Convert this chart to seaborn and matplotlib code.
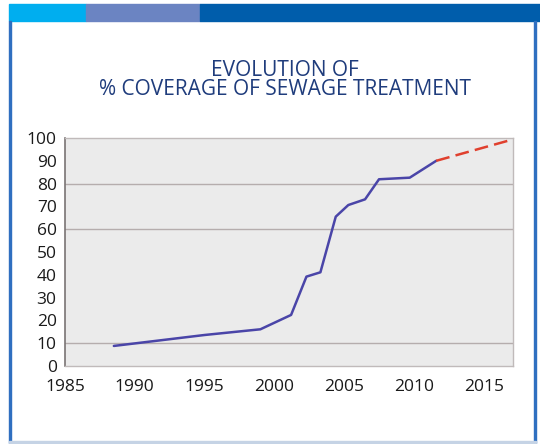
import matplotlib
matplotlib.use("Agg")
import matplotlib.pyplot as plt
import matplotlib.patches as patches
import pandas as pd
import seaborn as sns

years = [1988.5, 1995.0, 1999.0, 2001.2, 2002.3, 2003.3, 2004.4, 2005.3,
         2006.5, 2007.5, 2009.7, 2011.6]
coverage = [8.8, 13.6, 16.1, 22.4, 39.2, 41.1, 65.5, 70.6, 73.1, 81.9, 82.6, 90.0]

# Projection to full coverage
proj_years = [2011.6, 2017.1]
proj_coverage = [90.0, 99.4]

x_ticks = [1985, 1990, 1995, 2000, 2005, 2010, 2015]
y_ticks = [0, 10, 20, 30, 40, 50, 60, 70, 80, 90, 100]
grid_levels = [10, 60, 80]

title = "EVOLUTION OF\n% COVERAGE OF SEWAGE TREATMENT"

sns.set_style("white")
plt.rcParams["font.family"] = ["Open Sans", "DejaVu Sans"]

fig = plt.figure(figsize=(5.4, 4.44), dpi=100)

# header bar and page frame
W, H = 540, 444
def rect(x0, y0, x1, y1, color, **kw):
    fig.patches.append(patches.Rectangle((x0 / W, 1 - y1 / H), (x1 - x0) / W, (y1 - y0) / H,
                                         transform=fig.transFigure, color=color, **kw))

rect(9, 4, 86, 21, "#00aeef")
rect(86, 4, 200, 21, "#6b84c2")
rect(200, 4, 540, 21, "#005dab")
rect(9, 21, 11, 443, "#2f6fc0")
rect(534, 21, 536, 443, "#2f6fc0")
rect(9, 441, 536, 443, "#c5d3e5")

fig.text(285 / W, 1 - 80 / H, title, ha="center", va="center", fontsize=15,
         color="#1f3c7c", linespacing=0.82)

ax = fig.add_axes([65 / W, 1 - 366 / H, (513 - 65) / W, (366 - 138) / H])
ax.set_facecolor("#ebebeb")

df = pd.DataFrame({"year": years, "coverage": coverage})
proj = pd.DataFrame({"year": proj_years, "coverage": proj_coverage})

for lvl in grid_levels:
    ax.axhline(lvl, color="#b5adad", lw=1.0, zorder=1)

sns.lineplot(data=df, x="year", y="coverage", ax=ax, color="#4a45a8", lw=1.8, zorder=3)
sns.lineplot(data=proj, x="year", y="coverage", ax=ax, color="#e0402e", lw=1.8,
             dashes=False, linestyle=(0, (5.5, 2.5)), zorder=3)

ax.set_xlim(1985, 2017.1)
ax.set_ylim(0, 100)
ax.set_xticks(x_ticks)
ax.set_yticks(y_ticks)
ax.tick_params(axis="both", length=0, labelsize=12.5, colors="#1a1a1a")
ax.tick_params(axis="x", pad=9)
ax.tick_params(axis="y", pad=6)
ax.set_xlabel("")
ax.set_ylabel("")

for side in ["top", "right", "bottom"]:
    ax.spines[side].set_color("#c0baba")
    ax.spines[side].set_linewidth(1.0)
ax.spines["left"].set_color("#7a7474")
ax.spines["left"].set_linewidth(1.2)

fig.savefig("out.png", dpi=100)
